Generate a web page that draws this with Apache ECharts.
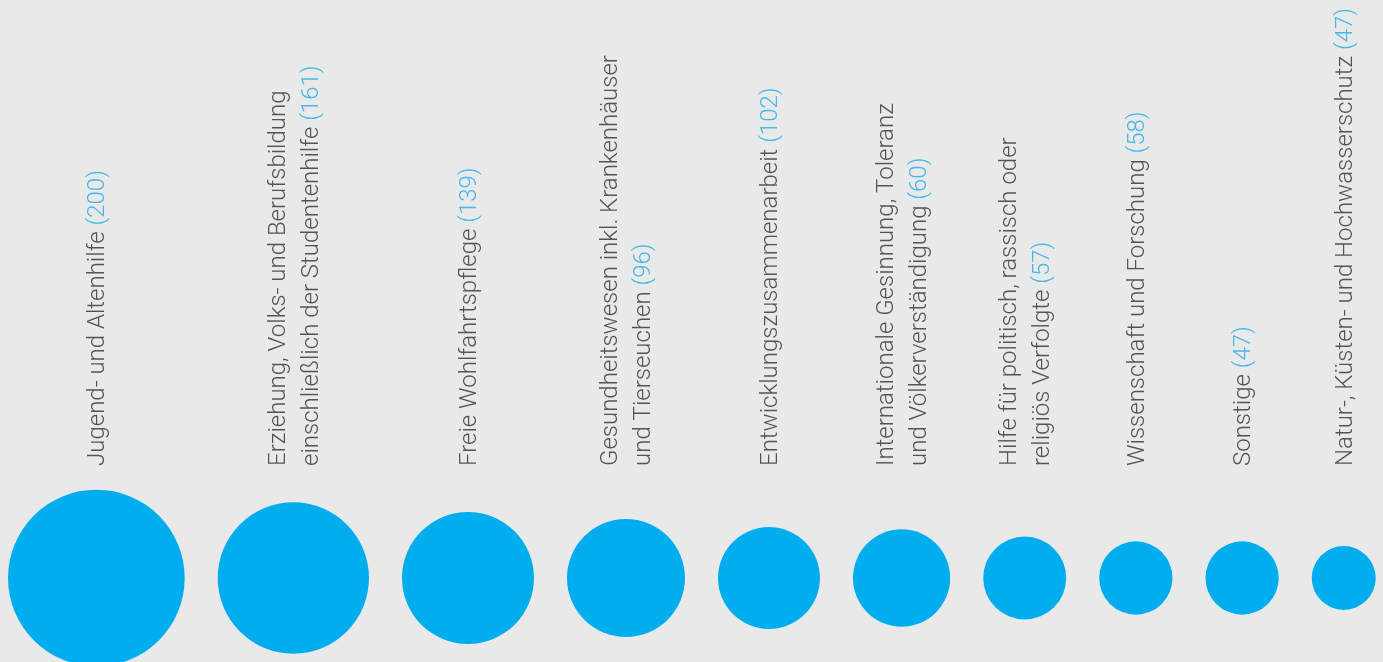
<!DOCTYPE html>
<html>
<head>
<meta charset="utf-8">
<script src="https://cdn.jsdelivr.net/npm/echarts@6/dist/echarts.min.js"></script>
<style>
html,body{margin:0;padding:0;background:#e9e9e9;}
#chart{width:1383px;height:662px;}
</style>
</head>
<body>
<div id="chart"></div>
<script>
// Categories (label lines separated by \n)
const categories = [
  'Jugend- und Altenhilfe',
  'Erziehung, Volks- und Berufsbildung\neinschließlich der Studentenhilfe',
  'Freie Wohlfahrtspflege',
  'Gesundheitswesen inkl. Krankenhäuser\nund Tierseuchen',
  'Entwicklungszusammenarbeit',
  'Internationale Gesinnung, Toleranz\nund Völkerverständigung',
  'Hilfe für politisch, rassisch oder\nreligiös Verfolgte',
  'Wissenschaft und Forschung',
  'Sonstige',
  'Natur-, Küsten- und Hochwasserschutz'
];
// Numbers shown in parentheses
const counts = [200, 161, 139, 96, 102, 60, 57, 58, 47, 47];
// Relative circle weights (area-proportional)
const circleWeight = [200, 146.6, 111.6, 89.2, 66.6, 60.6, 44.1, 34.4, 34.4, 26.2];

const W = 1383, H = 662;
const sizeScale = 176.7 / Math.sqrt(200);
const leftMargin = 8, gap = 33;
const circleY = 578, labelY = 466;

const diam = circleWeight.map(w => sizeScale * Math.sqrt(w));
const centers = [];
let acc = leftMargin;
diam.forEach((d, i) => { centers.push(acc + d / 2); acc += d + gap; });

const circleData = centers.map((x, i) => ({ value: [x, circleY], symbolSize: diam[i] }));
const labelData = centers.map((x, i) => {
  const lines = categories[i].split('\n');
  const last = lines.length - 1;
  lines[last] = lines[last] + ' {n|(' + counts[i] + ')}';
  return { value: [x + 2, labelY], labelText: lines.join('\n') };
});

const chart = echarts.init(document.getElementById('chart'));
chart.setOption({
  backgroundColor: '#e9e9e9',
  animation: false,
  grid: { left: 0, right: 0, top: 0, bottom: 0 },
  xAxis: { type: 'value', min: 0, max: W, show: false },
  yAxis: { type: 'value', min: 0, max: H, inverse: true, show: false },
  series: [
    {
      type: 'scatter',
      symbol: 'circle',
      data: circleData,
      itemStyle: { color: '#00aeef', opacity: 1 },
      clip: true,
      silent: true
    },
    {
      type: 'scatter',
      symbolSize: 0,
      data: labelData,
      silent: true,
      label: {
        show: true,
        position: 'inside',
        rotate: 90,
        align: 'left',
        verticalAlign: 'middle',
        fontFamily: 'Roboto',
        fontWeight: 300,
        fontSize: 24,
        lineHeight: 33,
        color: '#2e2e2e',
        formatter: p => p.data.labelText,
        rich: {
          n: { color: '#1badea', fontFamily: 'Roboto', fontWeight: 300, fontSize: 24, lineHeight: 33 }
        }
      }
    }
  ]
});
</script>
</body>
</html>
